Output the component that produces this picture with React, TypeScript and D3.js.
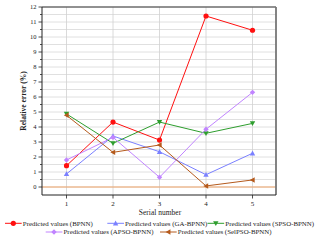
import React from "react";
import * as d3 from "d3";

const serials = [1, 2, 3, 4, 5];
const bpnn = [1.42, 4.33, 3.13, 11.4, 10.45];
const gaBpnn = [0.87, 3.4, 2.35, 0.82, 2.25];
const spsoBpnn = [4.87, 2.91, 4.33, 3.58, 4.24];
const apsoBpnn = [1.8, 3.31, 0.65, 3.85, 6.31];
const selpsoBpnn = [4.78, 2.31, 2.8, 0.07, 0.47];
const yTicks = [0, 1, 2, 3, 4, 5, 6, 7, 8, 9, 10, 11, 12];

const seriesList = [
  { name: "Predicted values (BPNN)", values: bpnn, color: "#ff1010", marker: "circle" },
  { name: "Predicted values (GA-BPNN)", values: gaBpnn, color: "#7a80ff", marker: "up" },
  { name: "Predicted values (SPSO-BPNN)", values: spsoBpnn, color: "#2e9e2e", marker: "down" },
  { name: "Predicted values (APSO-BPNN)", values: apsoBpnn, color: "#c184ff", marker: "diamond" },
  { name: "Predicted values (SelPSO-BPNN)", values: selpsoBpnn, color: "#b55a1c", marker: "left" },
];

function Marker({ type, x, y, color }: { type: string; x: number; y: number; color: string }) {
  const s = 2.7;
  if (type === "circle") return <circle cx={x} cy={y} r={2.6} fill={color} />;
  let pts: number[][] = [];
  if (type === "up") pts = [[0, -s], [s, s * 0.8], [-s, s * 0.8]];
  if (type === "down") pts = [[0, s], [s, -s * 0.8], [-s, -s * 0.8]];
  if (type === "diamond") pts = [[0, -s], [s, 0], [0, s], [-s, 0]];
  if (type === "left") pts = [[-s, 0], [s * 0.8, -s], [s * 0.8, s]];
  return <polygon points={pts.map((p) => `${x + p[0]},${y + p[1]}`).join(" ")} fill={color} />;
}

export default function App() {
  const left = 42, right = 276, top = 7, bottom = 195;
  const x = d3.scaleLinear().domain([0.473, 5.505]).range([left, right]);
  const y = d3.scaleLinear().domain([0, 12]).range([187, 7]);
  const halfTicks = d3.range(0, 12.01, 0.5);
  const line = d3
    .line<number>()
    .x((_, i) => x(serials[i]))
    .y((d) => y(d));
  const legendPos = [
    { lx: 5, ly: 223.3 },
    { lx: 107.3, ly: 223.3 },
    { lx: 207.5, ly: 223.3 },
    { lx: 45.7, ly: 232 },
    { lx: 160, ly: 232 },
  ];
  return (
    <svg
      width={320}
      height={241}
      style={{ position: "absolute", left: 0, top: 0, background: "#fff", fontFamily: "Liberation Serif, serif" }}
    >
      {halfTicks.map((t) => (
        <line key={"hg" + t} x1={left} x2={right} y1={y(t)} y2={y(t)} stroke="#d8d8d8" strokeWidth={0.8} />
      ))}
      {serials.map((s) => (
        <line key={"vg" + s} x1={x(s)} x2={x(s)} y1={top} y2={bottom} stroke="#d0d0d0" strokeWidth={0.8} />
      ))}
      <line x1={left} x2={right} y1={y(0)} y2={y(0)} stroke="#f0a468" strokeWidth={1} />
      {seriesList.map((s) => (
        <g key={s.name}>
          <path d={line(s.values) || ""} fill="none" stroke={s.color} strokeWidth={1} />
          {s.values.map((v, i) => (
            <Marker key={i} type={s.marker} x={x(serials[i])} y={y(v)} color={s.color} />
          ))}
        </g>
      ))}
      <line x1={left} x2={right} y1={top} y2={top} stroke="#333" strokeWidth={1} />
      <line x1={right} x2={right} y1={top} y2={bottom} stroke="#777" strokeWidth={1.8} />
      <line x1={left} x2={left} y1={top} y2={bottom} stroke="#222" strokeWidth={1} />
      <line x1={left} x2={right} y1={bottom} y2={bottom} stroke="#222" strokeWidth={1} />
      {halfTicks.map((t) => (
        <line
          key={"yt" + t}
          x1={Number.isInteger(t) ? left - 3.5 : left - 2}
          x2={left}
          y1={y(t)}
          y2={y(t)}
          stroke="#222"
          strokeWidth={0.8}
        />
      ))}
      {yTicks.map((t) => (
        <text key={"yl" + t} x={left - 5.5} y={y(t)} dy="0.33em" textAnchor="end" fontSize={6.5} fill="#222">
          {t}
        </text>
      ))}
      {serials.map((s) => (
        <g key={"xt" + s}>
          <line x1={x(s)} x2={x(s)} y1={bottom} y2={bottom + 3.5} stroke="#222" strokeWidth={0.8} />
          <text x={x(s)} y={bottom + 11} textAnchor="middle" fontSize={7} fill="#222">
            {s}
          </text>
        </g>
      ))}
      <text x={160} y={215} textAnchor="middle" fontSize={7.5} fill="#222">
        Serial number
      </text>
      <text
        transform={`translate(26,${(top + bottom) / 2}) rotate(-90)`}
        textAnchor="middle"
        fontSize={7.5}
        fontWeight="bold"
        fill="#222"
      >
        Relative error (%)
      </text>
      {seriesList.map((s, i) => {
        const p = legendPos[i];
        return (
          <g key={"lg" + i}>
            <line x1={p.lx} x2={p.lx + 16.7} y1={p.ly} y2={p.ly} stroke={s.color} strokeWidth={1} />
            <Marker type={s.marker} x={p.lx + 8.3} y={p.ly} color={s.color} />
            <text x={p.lx + 17.8} y={p.ly} dy="0.33em" fontSize={6.9} fill="#222">
              {s.name}
            </text>
          </g>
        );
      })}
    </svg>
  );
}
